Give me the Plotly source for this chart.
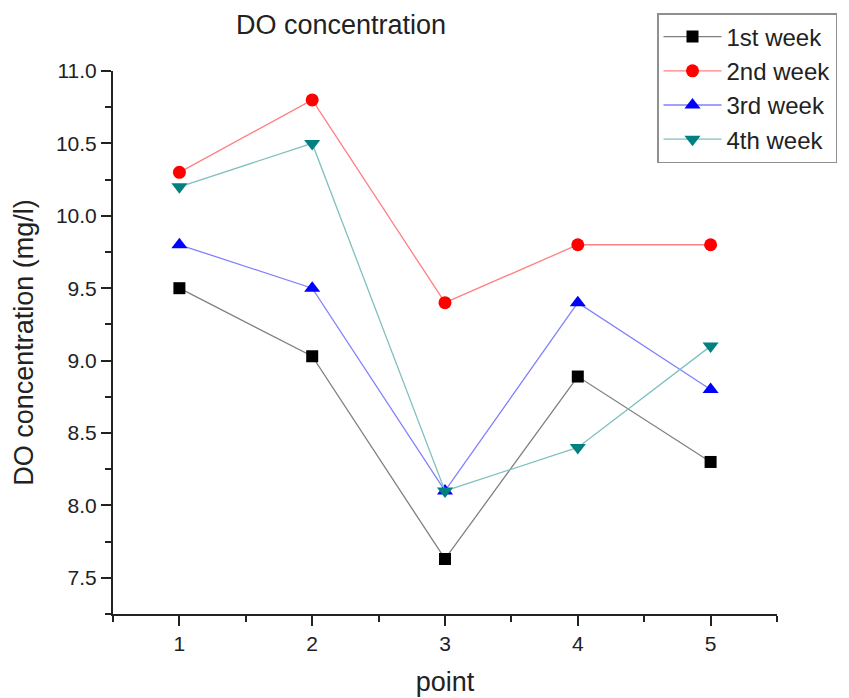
import plotly.graph_objects as go

points = [1, 2, 3, 4, 5]
week1 = [9.5, 9.03, 7.63, 8.89, 8.3]
week2 = [10.3, 10.8, 9.4, 9.8, 9.8]
week3 = [9.8, 9.5, 8.1, 9.4, 8.8]
week4 = [10.2, 10.5, 8.1, 8.4, 9.1]
names = ["1st week", "2nd week", "3rd week", "4th week"]

series = [week1, week2, week3, week4]
line_colors = ["#808080", "#ff8080", "#8080ff", "#80c0c0"]
marker_colors = ["#000000", "#ff0000", "#0000ff", "#008080"]
symbols = ["square", "circle", "triangle-up", "triangle-down"]
msizes = [12, 13, 14, 14]

fig = go.Figure()
for vals, name, lc, mc, sym, ms in zip(series, names, line_colors, marker_colors, symbols, msizes):
    fig.add_trace(go.Scatter(
        x=points, y=vals, name=name, mode="lines+markers",
        line=dict(color=lc, width=1.3),
        marker=dict(color=mc, symbol=sym, size=ms, line=dict(width=0)),
    ))

font_family = "Liberation Sans, Arial, sans-serif"
fig.update_layout(
    width=849, height=698,
    margin=dict(l=113, r=72, t=71, b=84, autoexpand=False),
    plot_bgcolor="white", paper_bgcolor="white",
    font=dict(family=font_family, color="#222222"),
    title=dict(text="DO concentration", x=341/849, xanchor="center",
               y=1 - 25/698, yanchor="middle", font=dict(size=27, color="#222222")),
    showlegend=True,
    legend=dict(x=(657-113)/664, y=(614-13)/543, xanchor="left", yanchor="top",
                bordercolor="#909090", borderwidth=1.5, bgcolor="white",
                itemwidth=58,
                font=dict(size=24, color="#222222"), tracegroupgap=0),
    xaxis=dict(range=[0.5, 5.5], tickvals=points, ticktext=[str(p) for p in points],
               showline=True, linecolor="#222222", linewidth=2, ticks="outside",
               ticklen=10, tickwidth=2, tickcolor="#222222", showgrid=False, zeroline=False,
               tickfont=dict(size=21),
               minor=dict(tickvals=[0.5, 1.5, 2.5, 3.5, 4.5, 5.5], ticks="outside",
                          ticklen=6, tickwidth=2, tickcolor="#222222", showgrid=False),
               title=dict(text="point", font=dict(size=27), standoff=18)),
    yaxis=dict(range=[7.25, 11.0], tick0=7.5, dtick=0.5, tickformat=".1f",
               showline=True, linecolor="#222222", linewidth=2, ticks="outside",
               ticklen=10, tickwidth=2, tickcolor="#222222", showgrid=False, zeroline=False,
               tickfont=dict(size=21),
               minor=dict(dtick=0.25, tick0=7.25, ticks="outside", ticklen=6, tickwidth=2,
                          tickcolor="#222222", showgrid=False),
               title=dict(text="DO concentration (mg/l)", font=dict(size=27), standoff=14)),
)

fig.write_html("out.html")
